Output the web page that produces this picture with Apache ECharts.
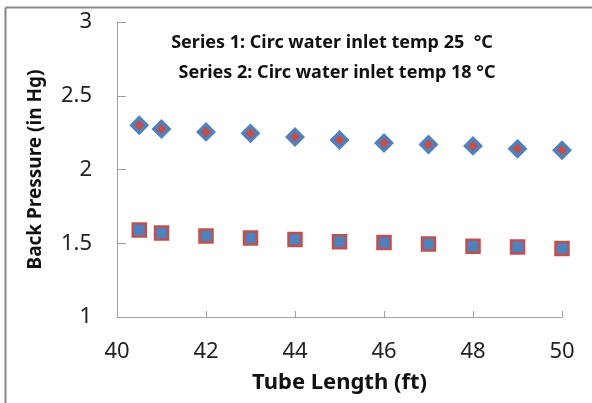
<!DOCTYPE html>
<html>
<head>
<meta charset="utf-8">
<script src="https://cdn.jsdelivr.net/npm/echarts@6/dist/echarts.min.js"></script>
<style>
  html, body { margin: 0; padding: 0; background: #fff; }
  #main { width: 592px; height: 403px; }
</style>
</head>
<body>
<div id="main"></div>
<script>
// tube length (ft)
var tubeLength = [40.5, 41, 42, 43, 44, 45, 46, 47, 48, 49, 50];
// back pressure (in Hg), series 1: inlet 25 °C
var backP25 = [2.30, 2.275, 2.255, 2.245, 2.22, 2.20, 2.18, 2.17, 2.16, 2.14, 2.13];
// series 2: inlet 18 °C
var backP18 = [1.59, 1.57, 1.55, 1.535, 1.525, 1.51, 1.505, 1.495, 1.48, 1.475, 1.465];

var titleLines = [
  'Series 1: Circ water inlet temp 25  °C',
  'Series 2: Circ water inlet temp 18 °C'
];

function pairs(xs, ys) {
  var out = [];
  for (var i = 0; i < xs.length; i++) out.push([xs[i], ys[i]]);
  return out;
}

var chart = echarts.init(document.getElementById('main'));
var fam = '"Noto Sans", "Open Sans", sans-serif';

chart.setOption({
  animation: false,
  textStyle: { fontFamily: fam },
  title: [
    {
      text: titleLines[0], left: 327, top: 29, textAlign: 'center',
      textStyle: { fontSize: 18, fontWeight: 'bold', color: '#111', fontFamily: fam }
    },
    {
      text: titleLines[1], left: 332, top: 59, textAlign: 'center',
      textStyle: { fontSize: 18, fontWeight: 'bold', color: '#111', fontFamily: fam }
    }
  ],
  graphic: [
    { type: 'line', shape: { x1: 5.5, y1: 7.5, x2: 592, y2: 7.5 }, style: { stroke: '#888', lineWidth: 2 } },
    { type: 'line', shape: { x1: 5.5, y1: 7.5, x2: 5.5, y2: 403 }, style: { stroke: '#888', lineWidth: 2 } }
  ],
  grid: { left: 117, right: 30, top: 22, bottom: 86 },
  xAxis: {
    type: 'value', min: 40, max: 50, interval: 2,
    name: 'Tube Length (ft)', nameLocation: 'middle', nameGap: 55,
    nameTextStyle: { fontSize: 22, fontWeight: 'bold', color: '#111' },
    axisLine: { lineStyle: { color: '#a0a0a0', width: 1 } },
    axisTick: { inside: true, length: 6, lineStyle: { color: '#a0a0a0' } },
    axisLabel: { fontSize: 22, color: '#222', margin: 24 },
    splitLine: { show: false }
  },
  yAxis: {
    type: 'value', min: 1, max: 3, interval: 0.5,
    name: 'Back Pressure (in Hg)', nameLocation: 'middle', nameGap: 72,
    nameTextStyle: { fontSize: 19, fontWeight: 'bold', color: '#111' },
    axisLine: { show: true, lineStyle: { color: '#a0a0a0', width: 1 } },
    axisTick: { show: true, inside: true, length: 9, lineStyle: { color: '#a0a0a0' } },
    axisLabel: { fontSize: 22, color: '#222', margin: 25 },
    splitLine: { show: false }
  },
  series: [
    {
      name: 'Series 1', type: 'scatter', symbol: 'diamond', symbolSize: 15,
      data: pairs(tubeLength, backP25),
      itemStyle: { color: '#C0504D', borderColor: '#4F81BD', borderWidth: 3.5, opacity: 1 }
    },
    {
      name: 'Series 2', type: 'scatter', symbol: 'rect', symbolSize: 13,
      data: pairs(tubeLength, backP18),
      itemStyle: { color: '#4F81BD', borderColor: '#C0504D', borderWidth: 2.5, opacity: 1 }
    }
  ]
});
</script>
</body>
</html>
